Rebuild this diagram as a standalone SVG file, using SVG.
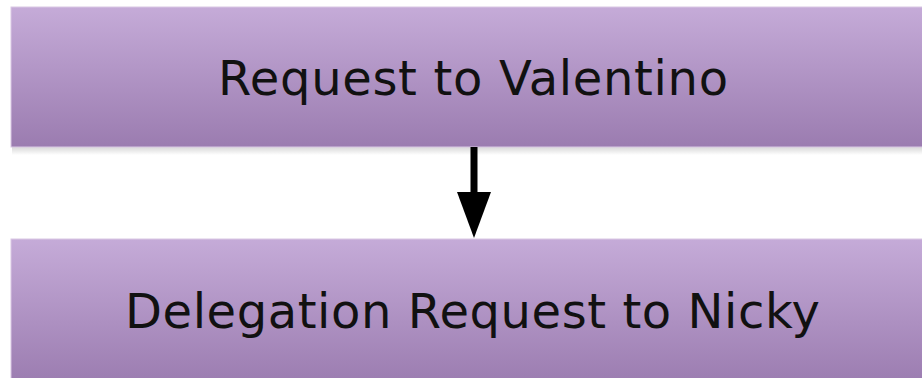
<svg xmlns="http://www.w3.org/2000/svg" width="922" height="378" viewBox="0 0 922 378">
<defs>
<linearGradient id="g" x1="0" y1="0" x2="0" y2="1">
<stop offset="0" stop-color="#c5abd8"/>
<stop offset="1" stop-color="#9b7cb0"/>
</linearGradient>
<linearGradient id="sh" x1="0" y1="0" x2="0" y2="1">
<stop offset="0" stop-color="#d8d8d8"/>
<stop offset="1" stop-color="#ffffff"/>
</linearGradient>
</defs>
<style>
.box{fill:url(#g);stroke:#d9c8e4;stroke-width:1}
.lbl{font-family:"DejaVu Sans",Verdana,sans-serif;font-size:48px;fill:#111;text-anchor:middle}
</style>
<rect width="922" height="378" fill="#ffffff"/>
<g id="node1">
<rect x="12" y="147" width="915" height="8" fill="url(#sh)"/>
<rect class="box" x="11" y="7" width="920" height="140"/>
<text class="lbl" x="473" y="95" textLength="510" lengthAdjust="spacing">Request to Valentino</text>
</g>
<g id="node2">
<rect class="box" x="11" y="239" width="920" height="145"/>
<text class="lbl" x="472.5" y="328" textLength="695" lengthAdjust="spacing">Delegation Request to Nicky</text>
</g>
<g id="connectors">
<line x1="474" y1="147" x2="474" y2="196" stroke="#000" stroke-width="7"/>
<polygon points="457,192 491,192 474,238" fill="#000"/>
</g>
</svg>
